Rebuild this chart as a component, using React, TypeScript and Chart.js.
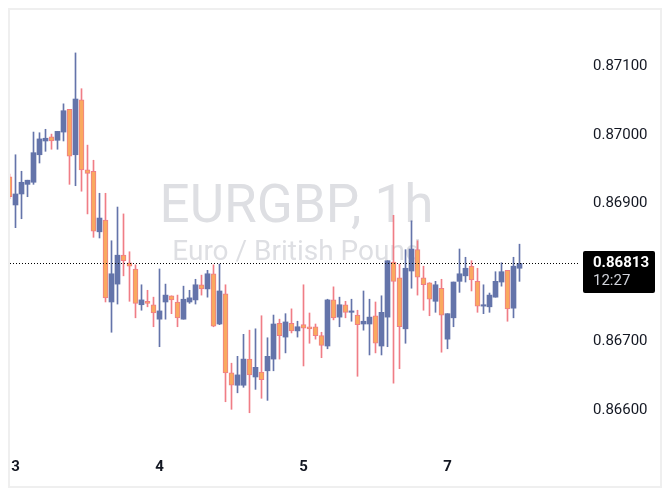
import React, { useEffect, useRef } from "react";
import { Chart, registerables } from "chart.js";

Chart.register(...registerables);

// ---- data (hourly candles, EURGBP) ----
const opens = [
  0.86939, 0.86898, 0.86914, 0.86928, 0.86931, 0.86971, 0.86991, 0.86997, 0.86992, 0.87004,
  0.87037, 0.86971, 0.87051, 0.86949, 0.86947, 0.86859, 0.86876, 0.86757, 0.86783, 0.86825,
  0.86814, 0.86805, 0.86753, 0.86758, 0.86753, 0.86732, 0.86757, 0.86766, 0.86757, 0.86732,
  0.86757, 0.86760, 0.86782, 0.86776, 0.86798, 0.86725, 0.86769, 0.86654, 0.86636, 0.86636,
  0.86674, 0.86648, 0.86655, 0.86657, 0.86674, 0.86726, 0.86706, 0.86726, 0.86715, 0.86724,
  0.86721, 0.86721, 0.86708, 0.86693, 0.86760, 0.86735, 0.86753, 0.86742, 0.86738, 0.86725,
  0.86725, 0.86737, 0.86693, 0.86735, 0.86815, 0.86792, 0.86718, 0.86802, 0.86833, 0.86792,
  0.86785, 0.86758, 0.86777, 0.86703, 0.86734, 0.86787, 0.86795, 0.86809, 0.86787, 0.86751,
  0.86750, 0.86764, 0.86786, 0.86803, 0.86748, 0.86806,
];
const highs = [
  0.86943, 0.86971, 0.86947, 0.86934, 0.87004, 0.87003, 0.87008, 0.87001, 0.87005, 0.87045,
  0.87037, 0.87119, 0.87067, 0.86985, 0.86963, 0.86915, 0.86915, 0.86846, 0.86895, 0.86885,
  0.86830, 0.86811, 0.86782, 0.86774, 0.86764, 0.86805, 0.86783, 0.86766, 0.86767, 0.86780,
  0.86774, 0.86790, 0.86796, 0.86803, 0.86811, 0.86812, 0.86782, 0.86668, 0.86678, 0.86710,
  0.86716, 0.86718, 0.86737, 0.86705, 0.86738, 0.86732, 0.86740, 0.86747, 0.86729, 0.86782,
  0.86741, 0.86725, 0.86713, 0.86761, 0.86779, 0.86764, 0.86758, 0.86761, 0.86745, 0.86773,
  0.86761, 0.86757, 0.86766, 0.86817, 0.86883, 0.86812, 0.86833, 0.86875, 0.86846, 0.86809,
  0.86785, 0.86787, 0.86790, 0.86740, 0.86786, 0.86834, 0.86822, 0.86817, 0.86806, 0.86782,
  0.86770, 0.86801, 0.86814, 0.86803, 0.86822, 0.86841,
];
const lows = [
  0.86907, 0.86865, 0.86878, 0.86910, 0.86928, 0.86959, 0.86976, 0.86979, 0.86979, 0.86991,
  0.86928, 0.86926, 0.86918, 0.86885, 0.86851, 0.86850, 0.86757, 0.86713, 0.86754, 0.86795,
  0.86758, 0.86734, 0.86745, 0.86750, 0.86721, 0.86692, 0.86732, 0.86740, 0.86721, 0.86732,
  0.86755, 0.86754, 0.86767, 0.86764, 0.86721, 0.86724, 0.86612, 0.86601, 0.86625, 0.86633,
  0.86596, 0.86630, 0.86617, 0.86614, 0.86657, 0.86674, 0.86683, 0.86712, 0.86706, 0.86664,
  0.86697, 0.86703, 0.86676, 0.86689, 0.86731, 0.86721, 0.86734, 0.86729, 0.86649, 0.86716,
  0.86680, 0.86683, 0.86680, 0.86692, 0.86639, 0.86660, 0.86697, 0.86777, 0.86767, 0.86745,
  0.86737, 0.86742, 0.86684, 0.86689, 0.86721, 0.86771, 0.86786, 0.86773, 0.86742, 0.86740,
  0.86742, 0.86764, 0.86780, 0.86729, 0.86734, 0.86787,
];
const closes = [
  0.86910, 0.86914, 0.86931, 0.86934, 0.86974, 0.86994, 0.86995, 0.86991, 0.87005, 0.87035,
  0.86969, 0.87052, 0.86949, 0.86944, 0.86860, 0.86879, 0.86763, 0.86798, 0.86825, 0.86817,
  0.86809, 0.86755, 0.86760, 0.86755, 0.86741, 0.86744, 0.86767, 0.86760, 0.86734, 0.86761,
  0.86763, 0.86782, 0.86776, 0.86798, 0.86722, 0.86773, 0.86654, 0.86636, 0.86651, 0.86674,
  0.86651, 0.86662, 0.86644, 0.86678, 0.86725, 0.86708, 0.86728, 0.86715, 0.86721, 0.86719,
  0.86718, 0.86708, 0.86694, 0.86760, 0.86734, 0.86753, 0.86742, 0.86744, 0.86724, 0.86729,
  0.86735, 0.86697, 0.86742, 0.86817, 0.86787, 0.86721, 0.86806, 0.86834, 0.86793, 0.86782,
  0.86761, 0.86782, 0.86738, 0.86740, 0.86786, 0.86798, 0.86806, 0.86789, 0.86751, 0.86753,
  0.86767, 0.86787, 0.86801, 0.86747, 0.86809, 0.86813,
];
const dayTickIndex = [1, 25, 49, 73];
const dayTickLabels = ["3", "4", "5", "7"];
const priceTicks = [0.866, 0.867, 0.868, 0.869, 0.87, 0.871];
const priceMin = 0.8653895;
const priceMax = 0.8714651;
const indexMin = 1 / 12;
const indexMax = 95 + 1 / 12;
const symbolTitle = "EURGBP, 1h";
const symbolSubtitle = "Euro / British Pound";
const lastPrice = 0.86813;
const countdown = "12:27";

// ---- styles ----
const UP = "#6474aa";
const DOWN_FILL = "#f9a95f";
const DOWN_LINE = "#f07d86";
const TEXT = "#131722";
const FONT = "Roboto";

const watermarkPlugin = {
  id: "watermark",
  beforeDatasetsDraw(chart: any) {
    const { ctx, chartArea } = chart;
    const cx = (chartArea.left + chartArea.right) / 2 + 1.5;
    ctx.save();
    ctx.fillStyle = "#dedfe3";
    ctx.textAlign = "center";
    ctx.textBaseline = "alphabetic";
    ctx.font = `53px ${FONT}`;
    ctx.fillText(symbolTitle, cx, chartArea.top + 188);
    ctx.font = `28px ${FONT}`;
    ctx.fillText(symbolSubtitle, cx, chartArea.top + 226);
    ctx.restore();
  },
};

const priceLinePlugin = {
  id: "priceLine",
  afterDraw(chart: any) {
    const { ctx, chartArea } = chart;
    const py = chart.scales.y.getPixelForValue(lastPrice);
    const ly = Math.round(py) + 0.5;
    ctx.save();
    ctx.strokeStyle = "#000000";
    ctx.lineWidth = 1;
    ctx.setLineDash([1, 2]);
    ctx.beginPath();
    ctx.moveTo(chartArea.left, ly);
    ctx.lineTo(chartArea.right, ly);
    ctx.stroke();
    ctx.setLineDash([]);
    const bx = chartArea.right + 3;
    const by = Math.round(py) - 12;
    ctx.fillStyle = "#000000";
    ctx.beginPath();
    (ctx as any).roundRect(bx, by, 72, 42, 2);
    ctx.fill();
    ctx.textAlign = "left";
    ctx.textBaseline = "middle";
    ctx.fillStyle = "#ffffff";
    ctx.font = `bold 15px ${FONT}`;
    ctx.fillText(lastPrice.toFixed(5), bx + 10, by + 12.5);
    ctx.fillStyle = "#d0d3da";
    ctx.font = `15px ${FONT}`;
    ctx.fillText(countdown, bx + 10, by + 30);
    ctx.restore();
  },
};

export default function App() {
  const ref = useRef<HTMLCanvasElement>(null);

  useEffect(() => {
    if (!ref.current) return;
    const idx = closes.map((_, i) => i);
    const isUp = idx.map((i) => closes[i] >= opens[i]);
    const bodies = idx.map((i) => ({ x: i, y: [opens[i], closes[i]] }));
    const wicks = idx.map((i) => ({ x: i, y: [lows[i], highs[i]] }));

    const chart = new Chart(ref.current, {
      type: "bar",
      data: {
        datasets: [
          {
            label: "body",
            data: bodies as any,
            grouped: false,
            barThickness: 5,
            minBarLength: 1,
            backgroundColor: isUp.map((u) => (u ? UP : DOWN_FILL)),
            borderColor: isUp.map((u) => (u ? UP : DOWN_LINE)),
            borderWidth: isUp.map((u) => (u ? 0 : 1)),
            borderSkipped: false,
            order: 0,
            clip: 0,
          } as any,
          {
            label: "wick",
            data: wicks as any,
            grouped: false,
            barThickness: 1,
            backgroundColor: isUp.map((u) => (u ? UP : DOWN_LINE)),
            borderWidth: 0,
            order: 1,
            clip: 0,
          } as any,
        ],
      },
      options: {
        responsive: false,
        animation: false,
        events: [],
        layout: { padding: { top: 24, left: 0, right: 0, bottom: 0 } },
        plugins: {
          legend: { display: false },
          tooltip: { enabled: false },
        },
        scales: {
          x: {
            type: "linear",
            min: indexMin,
            max: indexMax,
            offset: false,
            grid: { display: false, drawTicks: false },
            border: { display: false },
            afterBuildTicks: (s: any) => {
              s.ticks = dayTickIndex.map((v) => ({ value: v }));
            },
            afterFit: (s: any) => {
              s.height = 34;
            },
            ticks: {
              autoSkip: false,
              maxRotation: 0,
              minRotation: 0,
              padding: 0,
              color: TEXT,
              font: { family: FONT, size: 15, weight: "bold", lineHeight: 2 },
              callback: (_v: any, i: number) => dayTickLabels[i],
            },
          },
          y: {
            type: "linear",
            position: "right",
            min: priceMin,
            max: priceMax,
            grid: { display: false, drawTicks: false },
            border: { display: false },
            afterBuildTicks: (s: any) => {
              s.ticks = priceTicks.map((v) => ({ value: v }));
            },
            afterFit: (s: any) => {
              s.width = 80;
            },
            ticks: {
              autoSkip: false,
              padding: 13,
              color: TEXT,
              font: { family: FONT, size: 15 },
              callback: (v: any) => Number(v).toFixed(5),
            },
          },
        },
      } as any,
      plugins: [watermarkPlugin, priceLinePlugin],
    });
    return () => chart.destroy();
  }, []);

  return (
    <div
      style={{
        width: 650,
        height: 476,
        border: "2px solid #efefef",
        background: "#ffffff",
      }}
    >
      <canvas ref={ref} width={650} height={476} style={{ display: "block" }} />
    </div>
  );
}
